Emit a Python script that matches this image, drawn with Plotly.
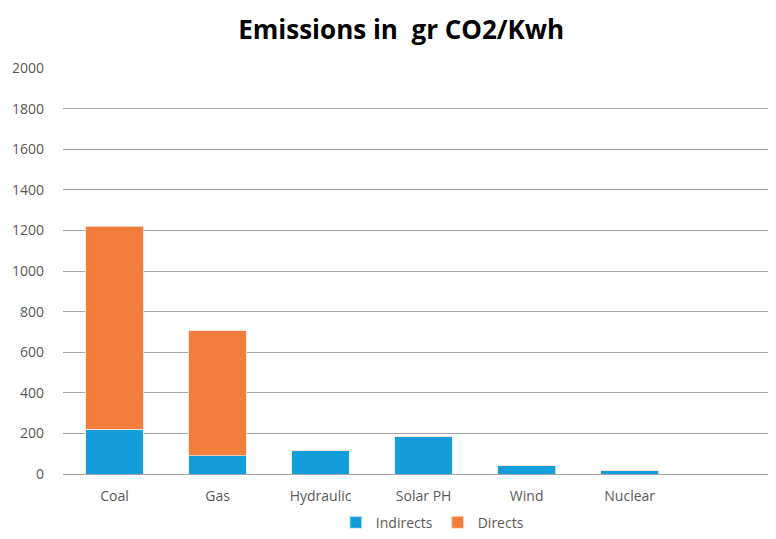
import plotly.graph_objects as go

categories = ["Coal", "Gas", "Hydraulic", "Solar PH", "Wind", "Nuclear", " "]
indirects = [220, 90, 117, 187, 40, 18, None]
directs = [1000, 615, 0, 0, 0, 0, None]

fig = go.Figure()
fig.add_trace(go.Bar(
    x=categories, y=indirects, name="Indirects",
    marker=dict(color="#139ddb", line=dict(color="#e6f4fb", width=0.8)),
))
fig.add_trace(go.Bar(
    x=categories, y=directs, name="Directs",
    marker=dict(color="#f27d3c", line=dict(color="#fde3d4", width=0.8)),
))

# page body adds an 8px margin, so the figure is sized to fit inside it
fig.update_layout(
    barmode="stack", bargap=0.44,
    width=768, height=523,
    margin=dict(l=55, r=0, t=60, b=57, autoexpand=False),
    plot_bgcolor="white", paper_bgcolor="white",
    font=dict(family="Open Sans", size=14, color="#595959"),
    title=dict(text="<b>Emissions in  gr CO2/Kwh</b>", x=0.512, xanchor="center",
               y=0.958, yanchor="middle",
               font=dict(family="Open Sans", size=26, color="black")),
    legend=dict(orientation="h", x=0.518, xanchor="center", y=-0.12, yanchor="middle",
                font=dict(size=14, color="#595959"), itemwidth=30, traceorder="normal"),
    showlegend=True,
)
fig.update_xaxes(showgrid=False, showline=False, ticks="", range=[-0.5, 6.42],
                 ticklabelstandoff=12,
                 tickfont=dict(size=14, color="#595959"))
fig.update_yaxes(range=[0, 2000], dtick=200, showgrid=True, gridcolor="#a6a6a6",
                 gridwidth=1, zeroline=True, zerolinecolor="#a6a6a6", zerolinewidth=1,
                 ticks="", ticklabelstandoff=18,
                 tickfont=dict(size=14, color="#595959"))

fig.write_html("out.html")
